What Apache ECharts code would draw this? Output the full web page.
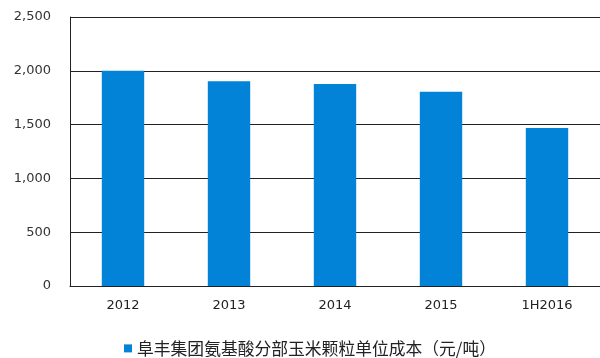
<!DOCTYPE html>
<html><head><meta charset="utf-8">
<script src="https://cdn.jsdelivr.net/npm/echarts@6/dist/echarts.min.js"></script>
<style>html,body{margin:0;padding:0;background:#fff}#c{width:600px;height:358px}</style>
</head><body><div id="c"></div>
<script>
const categories = ['2012','2013','2014','2015','1H2016'];
const values = [2000, 1902, 1877, 1806, 1468];
const seriesName = '阜丰集团氨基酸分部玉米颗粒单位成本（元/吨）';
const yTicks = {min:0, max:2500, interval:500};

const chart = echarts.init(document.getElementById('c'));
chart.setOption({
  animation:false,
  grid:{left:70, right:0, top:17, bottom:72},
  legend:{top:335, left:119, itemWidth:8, itemHeight:8, itemGap:5,
    textStyle:{fontSize:16.8, color:'#222', fontFamily:'Noto Sans CJK SC'}, icon:'rect',
    data:[seriesName]},
  xAxis:{type:'category', data:categories,
    axisLine:{show:true, lineStyle:{color:'#222', width:1}},
    axisTick:{show:false},
    axisLabel:{fontSize:13, color:'#222', margin:13, fontFamily:'DejaVu Sans'}},
  yAxis:{type:'value', min:yTicks.min, max:yTicks.max, interval:yTicks.interval,
    axisLine:{show:true, lineStyle:{color:'#222', width:1}},
    axisTick:{show:true, length:0},
    splitLine:{lineStyle:{color:'#222', width:1}},
    axisLabel:{fontSize:13, color:'#333', margin:19, fontFamily:'DejaVu Sans',
      formatter:v=>v.toLocaleString('en-US')}},
  series:[{name:seriesName, type:'bar', data:values, barWidth:'40%',
    itemStyle:{color:'#0283d8'}}]
});
</script></body></html>
